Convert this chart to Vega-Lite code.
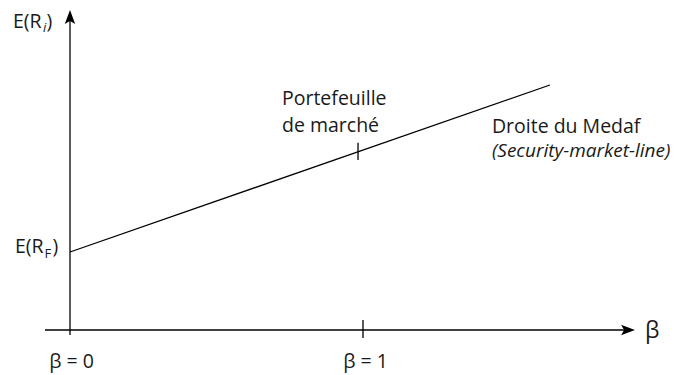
{
  "$schema": "https://vega.github.io/schema/vega-lite/v6.json",
  "width": 680,
  "height": 375,
  "autosize": {"type": "fit", "contains": "padding"},
  "padding": 0,
  "background": "white",
  "config": {"view": {"stroke": null}, "text": {"font": "Open Sans", "color": "#1a1a1a"}},
  "datasets": {
    "segments": [
      {"segment": "axe vertical", "b1": 0, "e1": -0.128, "b2": 0, "e2": 7.98},
      {"segment": "axe horizontal", "b1": -0.0853, "e1": 0, "b2": 1.898, "e2": 0},
      {"segment": "droite du Medaf", "b1": 0, "e1": 2, "b2": 1.638, "e2": 6.282},
      {"segment": "graduation beta 1", "b1": 1, "e1": 0.256, "b2": 1, "e2": -0.205},
      {"segment": "portefeuille de marche", "b1": 0.983, "e1": 4.803, "b2": 0.983, "e2": 4.359}
    ],
    "arrows": [
      {"arrow": "up", "b": 0, "e": 7.98},
      {"arrow": "right", "b": 1.8985, "e": 0}
    ],
    "labels": [
      {"label": "Portefeuille", "b": 0.7235, "e": 5.769, "role": "normal"},
      {"label": "de marché", "b": 0.7235, "e": 5.077, "role": "normal"},
      {"label": "Droite du Medaf", "b": 1.44, "e": 5.051, "role": "normal"},
      {"label": "(Security-market-line)", "b": 1.44, "e": 4.436, "role": "italic"},
      {"label": "β", "b": 1.9625, "e": -0.205, "role": "big"},
      {"label": "E(R", "b": -0.1945, "e": 7.744, "role": "normal"},
      {"label": "i", "b": -0.0921, "e": 7.641, "role": "subitalic"},
      {"label": ")", "b": -0.0802, "e": 7.744, "role": "normal"},
      {"label": "E(R", "b": -0.1877, "e": 1.974, "role": "normal"},
      {"label": "F", "b": -0.0870, "e": 1.846, "role": "sub"},
      {"label": ")", "b": -0.0597, "e": 1.974, "role": "normal"},
      {"label": "β = 0", "b": 0.0051, "e": -0.974, "role": "tick"},
      {"label": "β =  1", "b": 1.0085, "e": -0.974, "role": "tick"}
    ]
  },
  "layer": [
    {
      "data": {"name": "segments"},
      "mark": {"type": "rule", "color": "#000000", "strokeWidth": 1.3},
      "encoding": {
        "x": {"field": "b1", "type": "quantitative", "scale": {"domain": [-0.2389, 2.0819], "nice": false, "zero": false}, "axis": null},
        "y": {"field": "e1", "type": "quantitative", "scale": {"domain": [-1.1538, 8.4615], "nice": false, "zero": false}, "axis": null},
        "x2": {"field": "b2"},
        "y2": {"field": "e2"}
      }
    },
    {
      "data": {"name": "arrows"},
      "transform": [{"filter": "datum.arrow === 'up'"}],
      "mark": {"type": "point", "filled": true, "color": "#000000", "opacity": 1, "size": 300, "shape": "M0,-1L0.6,0.6L0,0.25L-0.6,0.6Z"},
      "encoding": {
        "x": {"field": "b", "type": "quantitative"},
        "y": {"field": "e", "type": "quantitative"}
      }
    },
    {
      "data": {"name": "arrows"},
      "transform": [{"filter": "datum.arrow === 'right'"}],
      "mark": {"type": "point", "filled": true, "color": "#000000", "opacity": 1, "size": 300, "shape": "M1,0L-0.6,0.6L-0.25,0L-0.6,-0.6Z"},
      "encoding": {
        "x": {"field": "b", "type": "quantitative"},
        "y": {"field": "e", "type": "quantitative"}
      }
    },
    {
      "data": {"name": "labels"},
      "transform": [{"filter": "datum.role === 'normal'"}],
      "mark": {"type": "text", "align": "left", "baseline": "alphabetic", "fontSize": 19.5},
      "encoding": {
        "x": {"field": "b", "type": "quantitative"},
        "y": {"field": "e", "type": "quantitative"},
        "text": {"field": "label"}
      }
    },
    {
      "data": {"name": "labels"},
      "transform": [{"filter": "datum.role === 'tick'"}],
      "mark": {"type": "text", "align": "center", "baseline": "alphabetic", "fontSize": 19.5},
      "encoding": {
        "x": {"field": "b", "type": "quantitative"},
        "y": {"field": "e", "type": "quantitative"},
        "text": {"field": "label"}
      }
    },
    {
      "data": {"name": "labels"},
      "transform": [{"filter": "datum.role === 'italic'"}],
      "mark": {"type": "text", "align": "left", "baseline": "alphabetic", "fontSize": 19, "fontStyle": "italic"},
      "encoding": {
        "x": {"field": "b", "type": "quantitative"},
        "y": {"field": "e", "type": "quantitative"},
        "text": {"field": "label"}
      }
    },
    {
      "data": {"name": "labels"},
      "transform": [{"filter": "datum.role === 'big'"}],
      "mark": {"type": "text", "align": "left", "baseline": "alphabetic", "fontSize": 23},
      "encoding": {
        "x": {"field": "b", "type": "quantitative"},
        "y": {"field": "e", "type": "quantitative"},
        "text": {"field": "label"}
      }
    },
    {
      "data": {"name": "labels"},
      "transform": [{"filter": "datum.role === 'sub'"}],
      "mark": {"type": "text", "align": "left", "baseline": "alphabetic", "fontSize": 13},
      "encoding": {
        "x": {"field": "b", "type": "quantitative"},
        "y": {"field": "e", "type": "quantitative"},
        "text": {"field": "label"}
      }
    },
    {
      "data": {"name": "labels"},
      "transform": [{"filter": "datum.role === 'subitalic'"}],
      "mark": {"type": "text", "align": "left", "baseline": "alphabetic", "fontSize": 13, "fontStyle": "italic"},
      "encoding": {
        "x": {"field": "b", "type": "quantitative"},
        "y": {"field": "e", "type": "quantitative"},
        "text": {"field": "label"}
      }
    }
  ]
}
